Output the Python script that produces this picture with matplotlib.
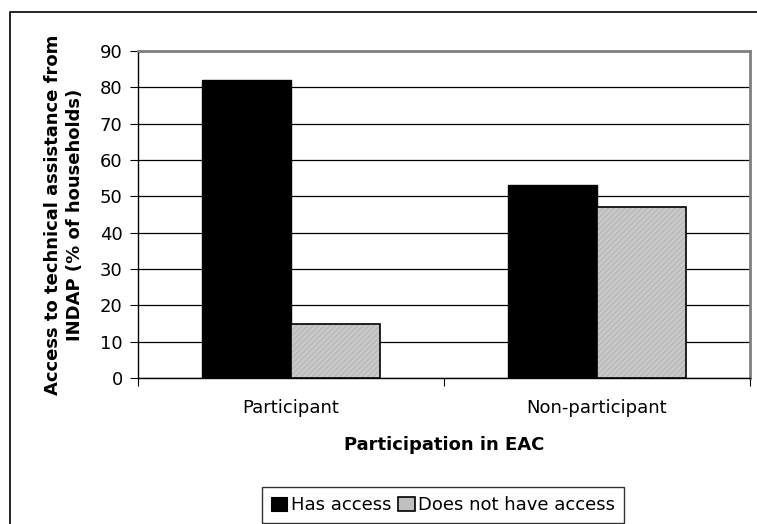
import matplotlib
matplotlib.use("Agg")
import matplotlib.pyplot as plt
from matplotlib.patches import Rectangle, Patch
import numpy as np

categories = ["Participant", "Non-participant"]
has_access = [82, 53]
no_access = [15, 47]
series_labels = ["Has access", "Does not have access"]
yticks = [0, 10, 20, 30, 40, 50, 60, 70, 80, 90]

plt.rcParams['font.family'] = ['DejaVu Sans']
plt.rcParams['hatch.linewidth'] = 0.5

W, H = 757, 524
fig = plt.figure(figsize=(W / 100, H / 100), dpi=100)
fig.patch.set_facecolor('white')

# outer frame (left and top visible)
fig.add_artist(Rectangle((10 / W, -0.1), 1.2, 1 - 12 / H + 0.1, transform=fig.transFigure,
                         fill=False, edgecolor='black', linewidth=1.2))

ax = fig.add_axes([138 / W, 1 - 378 / H, (750 - 138) / W, (378 - 51) / H])
x = np.arange(len(categories))
bw = 0.29

ax.bar(x - bw / 2, has_access, bw, color='black', edgecolor='black', linewidth=1.0, zorder=3)
ax.bar(x + bw / 2, no_access, bw, color='#c8c8c8', edgecolor='#acacac', hatch='//////',
       linewidth=0, zorder=3)
ax.bar(x + bw / 2, no_access, bw, color='none', edgecolor='black', linewidth=1.2, zorder=4)

handles = [Patch(facecolor='black', edgecolor='black', linewidth=0.8),
           Patch(facecolor='#c0c0c0', edgecolor='black', linewidth=1.2)]

ax.set_xlim(-0.5, 1.5)
ax.set_ylim(0, 90)
ax.set_yticks(yticks)
ax.set_yticklabels([str(t) for t in yticks], fontsize=13)
ax.yaxis.grid(True, color='black', linewidth=0.9, zorder=0)
ax.set_axisbelow(True)

ax.set_xticks([-0.5, 0.5, 1.5])
ax.set_xticklabels([])
ax.set_xticks(x, minor=True)
ax.set_xticklabels(categories, minor=True, fontsize=13)
ax.tick_params(axis='x', which='minor', length=0, pad=15)
ax.tick_params(axis='x', which='major', length=6, direction='out', color='black')
ax.tick_params(axis='y', length=6, direction='out', pad=5)

for side in ['top', 'right']:
    ax.spines[side].set_color('#808080')
    ax.spines[side].set_linewidth(2)
for side in ['left', 'bottom']:
    ax.spines[side].set_color('black')
    ax.spines[side].set_linewidth(1.0)

ax.set_xlabel("Participation in EAC", fontsize=13, fontweight='bold')
ax.xaxis.set_label_coords(0.5, (378 - 445) / (378 - 51))
ax.xaxis.label.set_verticalalignment('center')
ax.set_ylabel("Access to technical assistance from\nINDAP (% of households)", fontsize=13,
              fontweight='bold', linespacing=1.35)
ax.yaxis.set_label_coords((64 - 138) / (750 - 138), 0.5)
ax.yaxis.label.set_verticalalignment('center')

leg = fig.legend(handles, series_labels, loc='center', bbox_to_anchor=(443 / W, 1 - 505 / H),
                 ncol=2, fontsize=13, frameon=True, fancybox=False, edgecolor='black',
                 handlelength=0.9, handleheight=0.85, handletextpad=0.2, columnspacing=0.4,
                 borderpad=0.5, borderaxespad=0)
leg.get_frame().set_linewidth(1.0)

fig.savefig("out.png", dpi=100, facecolor='white')
